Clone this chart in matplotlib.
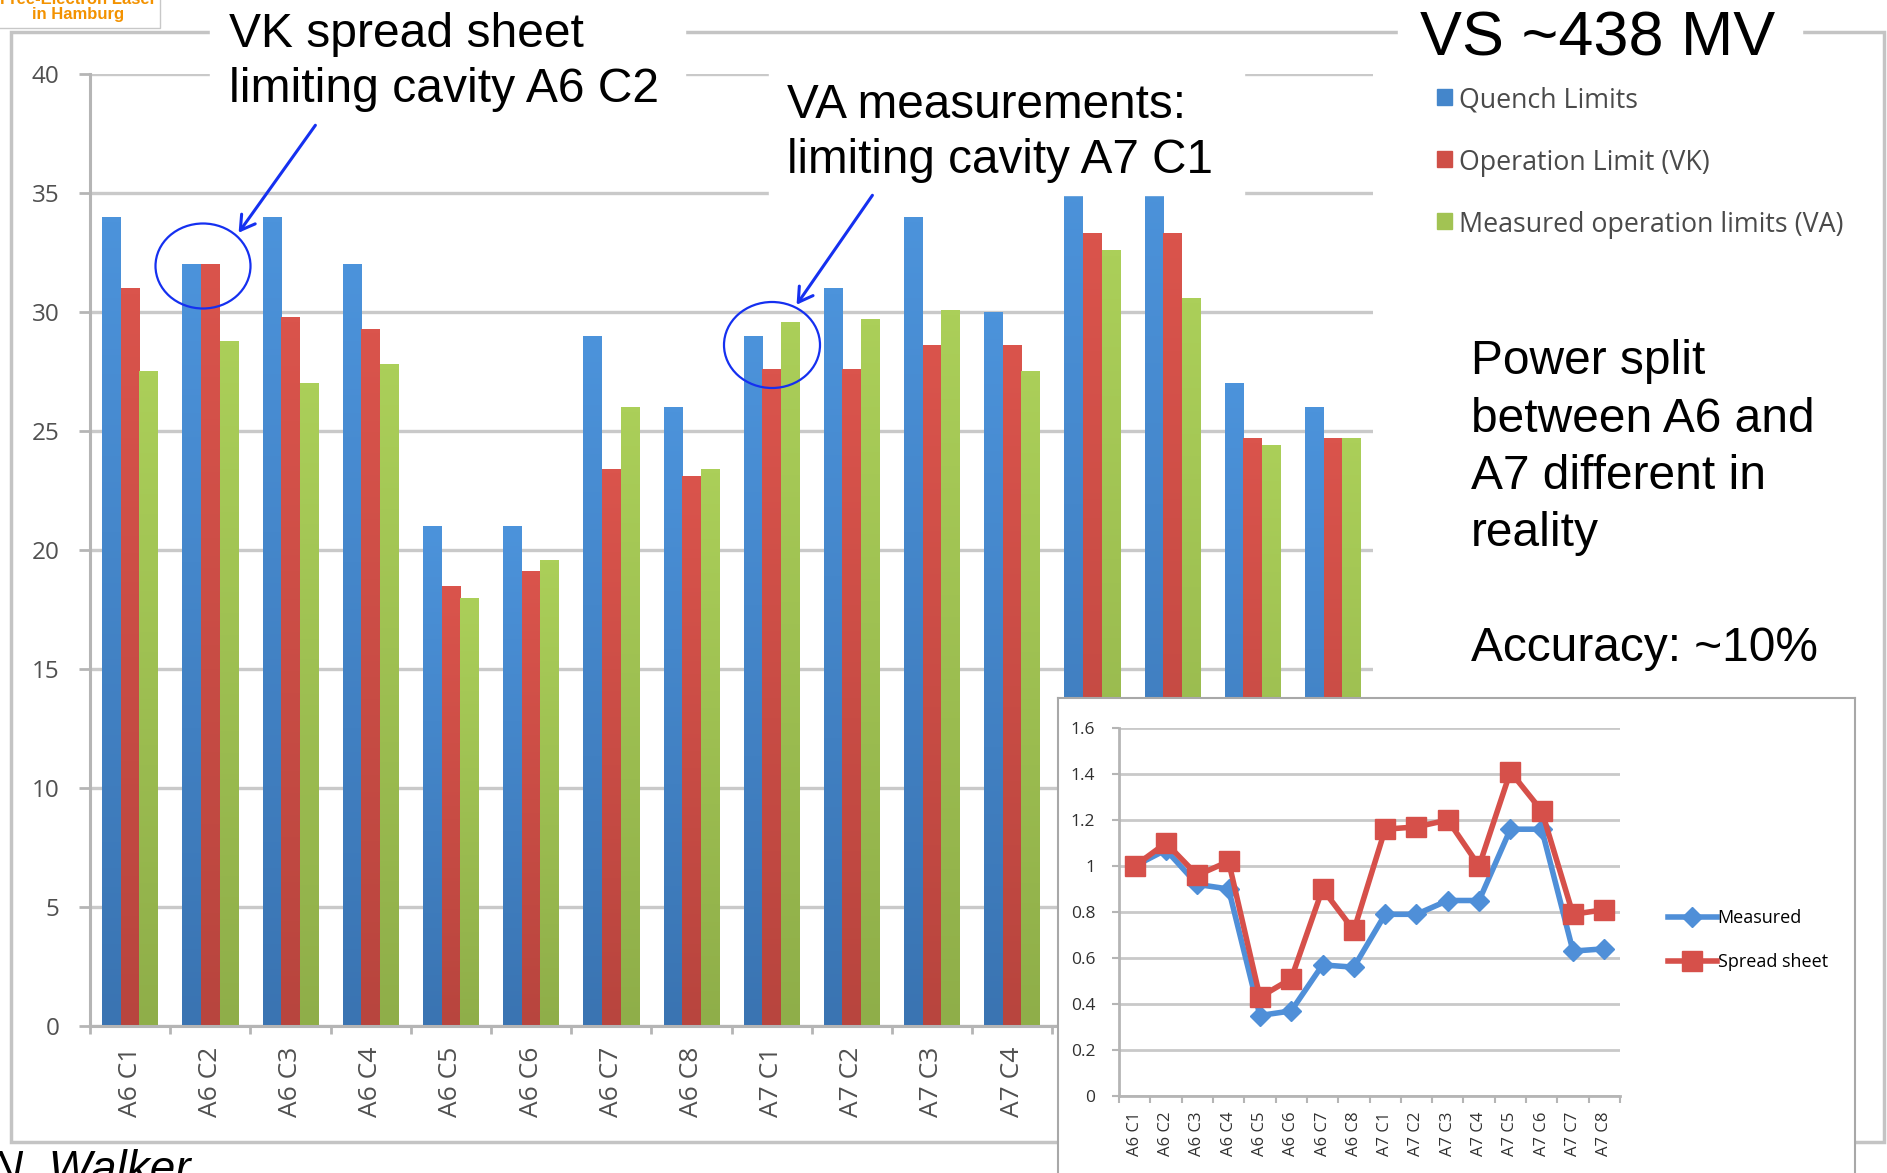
import matplotlib
matplotlib.use('Agg')
from matplotlib import pyplot as plt
from matplotlib.patches import Rectangle, Ellipse, FancyArrowPatch
from matplotlib.colors import LinearSegmentedColormap
import numpy as np

# Data
cavities = ['A6 C1', 'A6 C2', 'A6 C3', 'A6 C4', 'A6 C5', 'A6 C6', 'A6 C7', 'A6 C8',
            'A7 C1', 'A7 C2', 'A7 C3', 'A7 C4', 'A7 C5', 'A7 C6', 'A7 C7', 'A7 C8']
quenchLimits = [34, 32, 34, 32, 21, 21, 29, 26, 29, 31, 34, 30, 36, 36, 27, 26]
operationVK = [31.0, 32.0, 29.8, 29.3, 18.5, 19.1, 23.4, 23.1, 27.6, 27.6, 28.6, 28.6, 33.3, 33.3, 24.7, 24.7]
measuredVA = [27.5, 28.8, 27.0, 27.8, 18.0, 19.6, 26.0, 23.4, 29.6, 29.7, 30.1, 27.5, 32.6, 30.6, 24.4, 24.7]
seriesNames = ['Quench Limits', 'Operation Limit (VK)', 'Measured operation limits (VA)']
yTicks = [0, 5, 10, 15, 20, 25, 30, 35, 40]

ratioMeasured = [1.00, 1.07, 0.92, 0.90, 0.35, 0.37, 0.57, 0.56, 0.79, 0.79, 0.85, 0.85, 1.16, 1.16, 0.63, 0.64]
ratioSheet = [1.00, 1.10, 0.96, 1.02, 0.43, 0.51, 0.90, 0.72, 1.16, 1.17, 1.20, 1.00, 1.41, 1.24, 0.79, 0.81]
ratioNames = ['Measured', 'Spread sheet']
insetTicks = [0, 0.2, 0.4, 0.6, 0.8, 1.0, 1.2, 1.4, 1.6]
insetTickLabels = ['0', '0.2', '0.4', '0.6', '0.8', '1', '1.2', '1.4', '1.6']

barColors = ['#4486CB', '#CF4F47', '#A2C353']
barTops = ['#4C93DB', '#DA544C', '#ABCF59']
barBottoms = ['#3A74B2', '#B8453E', '#8FAE49']
lineColors = ['#4F8FD8', '#D6504A']
GRID = '#c9c9c9'
AXC = '#b5b5b5'
TXT = '#505050'
ARROW = '#1530F0'

W, H = 1887, 1173
plt.rcParams['font.family'] = ['Liberation Sans', 'DejaVu Sans']
fig = plt.figure(figsize=(W / 100, H / 100), dpi=100)

def pixBox(left, top, right, bottom):
    # pixel box (from top-left) -> figure fraction rect
    return [left / W, 1 - bottom / H, (right - left) / W, (bottom - top) / H]

# background frame of the excel chart
bg = fig.add_axes([0, 0, 1, 1], zorder=-1)
bg.set_xlim(0, W); bg.set_ylim(H, 0); bg.axis('off')
bg.add_patch(Rectangle((11, 32), 1873, 1110, fill=False, ec='#c4c4c4', lw=2.5))

# main bar chart
ax = fig.add_axes(pixBox(90, 74, 1373, 1026), zorder=0)
ax.set_facecolor('none')
x = np.arange(len(cavities))
bw = 0.232
grad = np.linspace(0, 1, 128).reshape(-1, 1)
for i, vals in enumerate([quenchLimits, operationVK, measuredVA]):
    bars = ax.bar(x + (i - 1) * bw, vals, bw, color=barColors[i], label=seriesNames[i], zorder=2)
    cmap = LinearSegmentedColormap.from_list('g%d' % i, [barBottoms[i], barTops[i]])
    for b in bars:
        # vertical shading like the excel bars
        im = ax.imshow(grad, cmap=cmap, origin='lower', aspect='auto', zorder=2.5,
                       extent=(b.get_x(), b.get_x() + b.get_width(), 0, b.get_height()))
        im.set_clip_path(b)
ax.set_xlim(-0.5, len(cavities) - 0.5)
ax.set_ylim(0, 40)
ax.set_yticks(yTicks)
ax.set_yticklabels([str(t) for t in yTicks], family='Open Sans', fontsize=17.5, color=TXT)
ax.yaxis.grid(True, color=GRID, lw=2.4)
ax.set_axisbelow(True)
ax.tick_params(axis='y', length=8, width=2, color=AXC, pad=14)
ax.set_xticks(x)
ax.set_xticklabels(cavities, rotation=90, family='Open Sans', fontsize=19, color=TXT)
ax.set_xticks(np.arange(-0.5, len(cavities)), minor=True)
ax.tick_params(axis='x', which='major', length=0, pad=15)
ax.tick_params(axis='x', which='minor', length=6, width=2, color=AXC)
for s in ['top', 'right']:
    ax.spines[s].set_visible(False)
for s in ['left', 'bottom']:
    ax.spines[s].set_color(AXC)
    ax.spines[s].set_linewidth(2.2)

# inset panel with ratio lines
box = fig.add_axes(pixBox(1058, 698, 1855, 1190), zorder=5)
box.set_xticks([]); box.set_yticks([])
box.set_facecolor('white')
for s in box.spines.values():
    s.set_color('#a8a8a8'); s.set_linewidth(1.5)

ins = fig.add_axes(pixBox(1119, 728, 1620, 1096), zorder=6)
ins.set_facecolor('none')
ins.plot(x, ratioMeasured, color=lineColors[0], lw=4, marker='D', ms=10, label=ratioNames[0], zorder=3)
ins.plot(x, ratioSheet, color=lineColors[1], lw=4, marker='s', ms=15, label=ratioNames[1], zorder=4)
ins.set_xlim(-0.5, len(cavities) - 0.5)
ins.set_ylim(0, 1.6)
ins.set_yticks(insetTicks)
ins.set_yticklabels(insetTickLabels, fontsize=12.5, color='#303030', family='Open Sans')
ins.yaxis.grid(True, color=GRID, lw=2)
ins.set_axisbelow(True)
ins.tick_params(axis='y', length=5, width=1.5, color=AXC, pad=12)
ins.set_xticks(x)
ins.set_xticklabels(cavities, rotation=90, fontsize=12, color='#303030', family='Open Sans')
ins.set_xticks(np.arange(-0.5, len(cavities)), minor=True)
ins.tick_params(axis='x', which='major', length=0, pad=11)
ins.tick_params(axis='x', which='minor', length=5, width=1.5, color=AXC)
for s in ['top', 'right']:
    ins.spines[s].set_visible(False)
for s in ['left', 'bottom']:
    ins.spines[s].set_color(AXC)
    ins.spines[s].set_linewidth(2)
ins.legend(loc='center left', bbox_to_anchor=(1659 / W, 1 - 940 / H), bbox_transform=fig.transFigure,
           frameon=False, handlelength=2.7, handletextpad=0.05, labelspacing=1.45,
           borderpad=0, prop={'family': 'Open Sans', 'size': 13})

# overlay for slide texts, arrows and circles (pixel coords)
ov = fig.add_axes([0, 0, 1, 1], zorder=10)
ov.set_xlim(0, W); ov.set_ylim(H, 0); ov.axis('off')
ov.patch.set_alpha(0)

# white text boxes covering chart lines
for (l, t, r, b) in [(210, 0, 685, 118), (769, 58, 1244, 195), (1398, 0, 1802, 60)]:
    ov.add_patch(Rectangle((l, t), r - l, b - t, color='white', zorder=1))

ov.text(229, 47, 'VK spread sheet', fontsize=34.6, va='baseline', zorder=3)
ov.text(229, 102, 'limiting cavity A6 C2', fontsize=34.6, va='baseline', zorder=3)
ov.text(787, 118, 'VA measurements:', fontsize=34.3, va='baseline', zorder=3)
ov.text(787, 173, 'limiting cavity A7 C1', fontsize=34.3, va='baseline', zorder=3)
ov.text(1420, 55, 'VS ~438 MV', fontsize=45.3, va='baseline', zorder=3)

powerLines = ['Power split', 'between A6 and', 'A7 different in', 'reality']
for k, line in enumerate(powerLines):
    ov.text(1471, 374 + k * 57.5, line, fontsize=34.5, va='baseline', zorder=3)
ov.text(1471, 661, 'Accuracy: ~10%', fontsize=34.5, va='baseline', zorder=3)

# legend of the bar chart
for k, name in enumerate(seriesNames):
    yc = 97 + k * 62
    ov.add_patch(Rectangle((1437, yc - 8), 15, 16, color=barColors[k], zorder=3))
    ov.text(1459, yc + 4, name, fontsize=19.3, family='Open Sans', color='#4a4a4a', va='center', zorder=3)

# circles and arrows
ov.add_patch(Ellipse((203, 266), 95, 85, fill=False, ec=ARROW, lw=1.6, zorder=4))
ov.add_patch(Ellipse((772, 345), 96, 86, fill=False, ec=ARROW, lw=1.6, zorder=4))
for (x0, y0, x1, y1) in [(317, 123, 237, 235), (874, 193, 795, 307)]:
    ov.add_patch(FancyArrowPatch((x0, y0), (x1, y1), arrowstyle='->,head_length=10,head_width=6',
                                 color=ARROW, lw=2.2, mutation_scale=1, zorder=4))

# logo corner and author
ov.add_patch(Rectangle((-5, -5), 165, 33, fill=False, ec='#c8c8c8', lw=1, zorder=2))
ov.text(78, -1, 'Free-Electron Laser', fontsize=12, color='#F39200', weight='bold', ha='center', va='center', zorder=3)
ov.text(78, 15, 'in Hamburg', fontsize=12, color='#F39200', weight='bold', ha='center', va='center', zorder=3)
ov.text(-10, 1183, 'N. Walker', fontsize=33, style='italic', va='baseline', zorder=3)

fig.savefig('out.png', dpi=100)
